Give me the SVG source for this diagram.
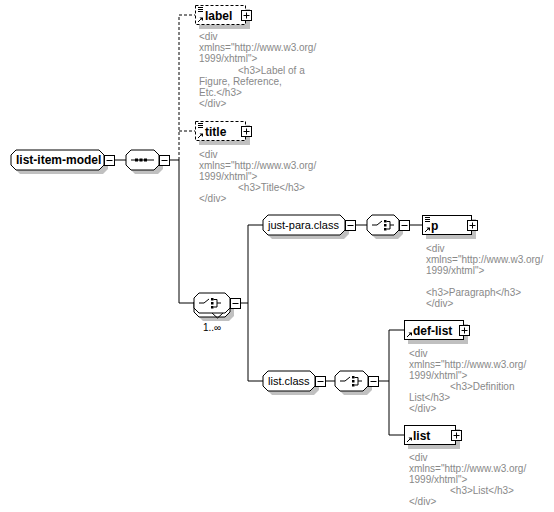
<svg xmlns="http://www.w3.org/2000/svg" width="554" height="512" viewBox="0 0 554 512">
<style>
.bg{fill:#fff}
.sh{fill:#c0c0c0;stroke:none}
.shape{fill:#fff;stroke:#000;stroke-width:1}
.opt{fill:#fff;stroke:#000;stroke-width:1;stroke-dasharray:3,2}
.box{fill:#fff;stroke:#000;stroke-width:1}
.ln{fill:none;stroke:#000;stroke-width:1}
.dl{fill:none;stroke:#000;stroke-width:1;stroke-dasharray:3,2}
.b{font-family:"Liberation Sans",Arial,sans-serif;font-size:12px;font-weight:bold;fill:#000}
.r{font-family:"Liberation Sans",Arial,sans-serif;font-size:11px;fill:#000}
.doc{font-family:"Liberation Sans",Arial,sans-serif;font-size:10px;fill:#888}
.m{font-family:"Liberation Sans",Arial,sans-serif;font-size:10px;fill:#000}
.dot{fill:#000}
</style>
<defs>
<g id="minus"><rect class="box" x="0" y="0" width="10" height="10"/><path class="ln" d="M2,5H8"/></g>
<g id="plus"><rect class="box" x="0" y="0" width="10" height="10"/><path class="ln" d="M2,5H8M5,2V8"/></g>
<g id="docicon"><path class="ln" d="M3,2.5H8M3,4.5H8M3,6.5H8"/></g>
<g id="reficon"><path class="ln" d="M3,17L6,14"/><path class="dot" d="M4.5,12.5H8V16Z"/></g>
<g id="choiceicon"><path class="ln" d="M5,10H10L15,6"/><rect class="dot" x="17" y="5" width="2.5" height="2.5"/><rect class="dot" x="17" y="9" width="2.5" height="2.5"/><rect class="dot" x="17" y="13" width="2.5" height="2.5"/><path class="ln" d="M19.5,6.5H23V14H19.5M23,10H27"/></g>
</defs>
<rect class="bg" x="0" y="0" width="554" height="512"/>

<g id="connectors">
<path class="ln" d="M114,160H126"/>
<path class="dl" d="M179,160V15H195M179,131H195"/>
<path class="ln" d="M169,160H179V303H194"/>
<path class="ln" d="M240,303H248M263,225H248V381H263"/>
<path class="ln" d="M355,225H367"/>
<path class="ln" d="M409,225H422"/>
<path class="ln" d="M325,381H335"/>
<path class="ln" d="M378,381H389M404,330H389V435H404"/>
</g>

<g id="list-item-model">
<path class="sh" d="M20,154H103L108,159V169L103,174H20L15,169V159Z"/>
<path class="shape" d="M16,150H99L104,155V165L99,170H16L11,165V155Z"/>
<text class="b" x="16" y="164">list-item-model</text>
<use href="#minus" x="104.5" y="155.5"/>
</g>

<g id="sequence">
<path class="sh" d="M135,154H158L163,159V169L158,174H135L130,169V159Z"/>
<path class="shape" d="M131,150H154L159,155V165L154,170H131L126,165V155Z"/>
<path class="ln" d="M131,160H154"/>
<rect class="dot" x="135" y="158.5" width="3" height="3"/>
<rect class="dot" x="139.5" y="158.5" width="3" height="3"/>
<rect class="dot" x="144" y="158.5" width="3" height="3"/>
<use href="#minus" x="159.5" y="155.5"/>
</g>

<g id="label">
<rect class="sh" x="199" y="9" width="51" height="20"/>
<rect class="opt" x="195.5" y="5.5" width="50" height="19"/>
<use href="#docicon" x="195" y="5"/>
<use href="#reficon" x="195" y="5"/>
<text class="b" x="205" y="19.5">label</text>
<use href="#plus" x="241.5" y="10.5"/>
<text class="doc" x="199" y="40">&lt;div</text>
<text class="doc" x="199" y="51">xmlns="http://www.w3.org/</text>
<text class="doc" x="199" y="62">1999/xhtml"&gt;</text>
<text class="doc" x="238" y="73.5">&lt;h3&gt;Label of a</text>
<text class="doc" x="199" y="85">Figure, Reference,</text>
<text class="doc" x="199" y="96">Etc.&lt;/h3&gt;</text>
<text class="doc" x="199" y="107">&lt;/div&gt;</text>
</g>

<g id="title">
<rect class="sh" x="199" y="125" width="51" height="20"/>
<rect class="opt" x="195.5" y="121.5" width="50" height="19"/>
<use href="#docicon" x="195" y="121"/>
<use href="#reficon" x="195" y="121"/>
<text class="b" x="205" y="135.5">title</text>
<use href="#plus" x="241.5" y="126.5"/>
<text class="doc" x="199" y="157.5">&lt;div</text>
<text class="doc" x="199" y="168.5">xmlns="http://www.w3.org/</text>
<text class="doc" x="199" y="179.5">1999/xhtml"&gt;</text>
<text class="doc" x="238" y="190.5">&lt;h3&gt;Title&lt;/h3&gt;</text>
<text class="doc" x="199" y="201.5">&lt;/div&gt;</text>
</g>

<g id="choice-unbounded">
<path class="sh" d="M203,301H229L234,306V316L229,321H203L198,316V306Z"/>
<path class="shape" d="M199,297H225L230,302V312L225,317H199L194,312V302Z"/>
<path class="shape" d="M199,293H225L230,298V308L225,313H199L194,308V298Z"/>
<path class="ln" d="M212,313L217.5,318L223,313"/>
<use href="#choiceicon" x="194" y="293"/>
<use href="#minus" x="230.5" y="298.5"/>
<text class="m" x="203" y="331">1..∞</text>
</g>

<g id="just-para.class">
<path class="sh" d="M272,219H344L349,224V234L344,239H272L267,234V224Z"/>
<path class="shape" d="M268,215H340L345,220V230L340,235H268L263,230V220Z"/>
<text class="r" x="268" y="229">just-para.class</text>
<use href="#minus" x="345.5" y="220.5"/>
</g>

<g id="choice-para">
<path class="sh" d="M376,219H398L403,224V234L398,239H376L371,234V224Z"/>
<path class="shape" d="M372,215H394L399,220V230L394,235H372L367,230V220Z"/>
<use href="#choiceicon" x="367" y="215"/>
<use href="#minus" x="399.5" y="220.5"/>
</g>

<g id="p">
<rect class="sh" x="426" y="219" width="50" height="20"/>
<rect class="shape" x="422.5" y="215.5" width="49" height="19"/>
<use href="#docicon" x="422" y="215"/>
<use href="#reficon" x="422" y="215"/>
<text class="b" x="431" y="229.5">p</text>
<use href="#plus" x="467.5" y="220.5"/>
<text class="doc" x="426" y="251.5">&lt;div</text>
<text class="doc" x="426" y="262.5">xmlns="http://www.w3.org/</text>
<text class="doc" x="426" y="273.5">1999/xhtml"&gt;</text>
<text class="doc" x="426" y="295.5">&lt;h3&gt;Paragraph&lt;/h3&gt;</text>
<text class="doc" x="426" y="306.5">&lt;/div&gt;</text>
</g>

<g id="list.class">
<path class="sh" d="M272,375H314L319,380V390L314,395H272L267,390V380Z"/>
<path class="shape" d="M268,371H310L315,376V386L310,391H268L263,386V376Z"/>
<text class="r" x="268" y="385">list.class</text>
<use href="#minus" x="315.5" y="376.5"/>
</g>

<g id="choice-list">
<path class="sh" d="M344,375H367L372,380V390L367,395H344L339,390V380Z"/>
<path class="shape" d="M340,371H363L368,376V386L363,391H340L335,386V376Z"/>
<use href="#choiceicon" x="335" y="371"/>
<use href="#minus" x="368.5" y="376.5"/>
</g>

<g id="def-list">
<rect class="sh" x="408" y="324" width="60" height="20"/>
<rect class="shape" x="404.5" y="320.5" width="59" height="19"/>
<use href="#reficon" x="404" y="320"/>
<text class="b" x="413" y="334.5">def-list</text>
<use href="#plus" x="459.5" y="325.5"/>
<text class="doc" x="409" y="356.5">&lt;div</text>
<text class="doc" x="409" y="367.5">xmlns="http://www.w3.org/</text>
<text class="doc" x="409" y="378.5">1999/xhtml"&gt;</text>
<text class="doc" x="450" y="389.5">&lt;h3&gt;Definition</text>
<text class="doc" x="409" y="400.5">List&lt;/h3&gt;</text>
<text class="doc" x="409" y="411.5">&lt;/div&gt;</text>
</g>

<g id="list">
<rect class="sh" x="408" y="429" width="52" height="20"/>
<rect class="shape" x="404.5" y="425.5" width="51" height="19"/>
<use href="#reficon" x="404" y="425"/>
<text class="b" x="413" y="439.5">list</text>
<use href="#plus" x="451.5" y="430.5"/>
<text class="doc" x="409" y="460.5">&lt;div</text>
<text class="doc" x="409" y="471.5">xmlns="http://www.w3.org/</text>
<text class="doc" x="409" y="482.5">1999/xhtml"&gt;</text>
<text class="doc" x="450" y="493.5">&lt;h3&gt;List&lt;/h3&gt;</text>
<text class="doc" x="409" y="504.5">&lt;/div&gt;</text>
</g>
</svg>
